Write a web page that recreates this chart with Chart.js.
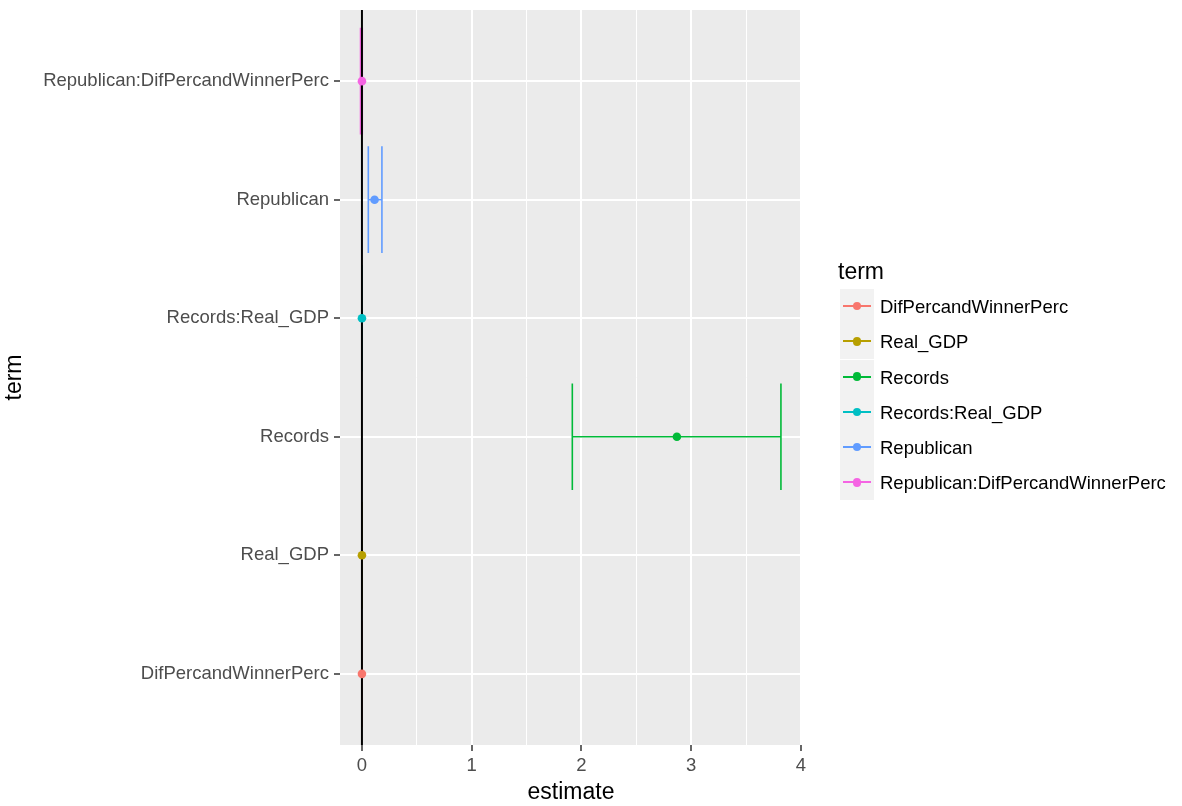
<!DOCTYPE html>
<html>
<head>
<meta charset="utf-8">
<script src="https://cdn.jsdelivr.net/npm/chart.js@4/dist/chart.umd.min.js"></script>
<style>
  html, body { margin:0; padding:0; background:#fff; }
  #wrap { position:relative; width:1182px; height:806px; }
  #c { position:absolute; left:0; top:0; }
  #legend { position:absolute; left:838px; top:255px; font-family:"Liberation Sans", Arial, sans-serif; }
  #legend .title { font-size:23px; color:#000; height:32px; line-height:32px; margin-bottom:2px; }
  #legend .row { position:relative; height:35.3px; }
  #legend .key { position:absolute; left:2px; top:0; width:34px; height:35px; background:#F2F2F2; }
  #legend .line { position:absolute; left:3px; top:16px; width:28px; height:2px; }
  #legend .dot { position:absolute; left:12.8px; top:12.8px; width:8.5px; height:8.5px; border-radius:50%; }
  #legend .lab { position:absolute; left:42px; top:0; height:35px; line-height:35px; font-size:18.5px; color:#000; white-space:nowrap; }
</style>
</head>
<body>
<div id="wrap">
  <canvas id="c" width="1182" height="806"></canvas>
  <div id="legend"></div>
</div>
<script>
// ---- data ----
const terms = ['DifPercandWinnerPerc', 'Real_GDP', 'Records', 'Records:Real_GDP', 'Republican', 'Republican:DifPercandWinnerPerc'];
const estimates = [0.0, 0.0, 2.87, 0.0, 0.115, 0.0];
const lowers = [-0.001, -0.001, 1.917, -0.001, 0.058, -0.013];
const uppers = [0.001, 0.001, 3.818, 0.001, 0.182, 0.003];
const colors = ['#F8766D', '#B79F00', '#00BA38', '#00BFC4', '#619CFF', '#F564E3'];
const xMajorTicks = [0, 1, 2, 3, 4];
const xMinorTicks = [0.5, 1.5, 2.5, 3.5];
const refLineX = 0;

const FONT = '"Liberation Sans", Arial, sans-serif';
const HALF_H = 0.45;
const Y_MIN = 0.4, Y_MAX = 6.6;

const datasets = [];
// points (top)
terms.forEach((t, i) => {
  datasets.push({
    type: 'scatter', label: t,
    data: [{ x: estimates[i], y: i + 1 }],
    backgroundColor: colors[i], borderColor: colors[i],
    pointRadius: 4.3, pointBorderWidth: 0, order: 0
  });
});
// reference line
datasets.push({
  type: 'line', label: '_vline',
  data: [{ x: refLineX, y: Y_MIN }, { x: refLineX, y: Y_MAX }],
  borderColor: '#000', borderWidth: 2, pointRadius: 0, order: 1
});
// error bars
terms.forEach((t, i) => {
  const y = i + 1, lo = lowers[i], hi = uppers[i];
  datasets.push({
    type: 'line', label: '_err' + i,
    data: [
      { x: lo, y: y - HALF_H }, { x: lo, y: y + HALF_H }, { x: lo, y: null },
      { x: lo, y: y }, { x: hi, y: y }, { x: hi, y: null },
      { x: hi, y: y - HALF_H }, { x: hi, y: y + HALF_H }
    ],
    borderColor: colors[i], borderWidth: 1.6, pointRadius: 0, spanGaps: false, order: 2
  });
});

const panelBg = {
  id: 'panelBg',
  beforeDraw(chart) {
    const a = chart.chartArea, ctx = chart.ctx;
    ctx.save();
    ctx.fillStyle = '#EBEBEB';
    ctx.fillRect(a.left, a.top, a.right - a.left, a.bottom - a.top);
    ctx.restore();
  }
};

new Chart(document.getElementById('c'), {
  type: 'scatter',
  data: { datasets },
  plugins: [panelBg],
  options: {
    responsive: false, animation: false, devicePixelRatio: 1,
    layout: { padding: { top: 10, right: 380, left: 0, bottom: 0 } },
    plugins: { legend: { display: false }, tooltip: { enabled: false } },
    scales: {
      x: {
        type: 'linear', min: -0.2, max: 4.01,
        afterBuildTicks: s => { s.ticks = xMajorTicks.concat(xMinorTicks).sort((a, b) => a - b).map(v => ({ value: v })); },
        afterFit: s => { s.height = 61; s.paddingLeft = 0; s.paddingRight = 0; },
        ticks: {
          autoSkip: false, maxRotation: 0, padding: 4,
          color: '#4D4D4D', font: { family: FONT, size: 18.5 },
          callback: v => (xMajorTicks.includes(v) ? String(v) : '')
        },
        grid: {
          color: '#FFFFFF',
          lineWidth: c => (c.tick && xMajorTicks.includes(c.tick.value) ? 2 : 1),
          tickColor: c => (c.tick && xMajorTicks.includes(c.tick.value) ? '#333333' : 'rgba(0,0,0,0)'),
          tickLength: 6, tickWidth: 1.5
        },
        border: { display: false },
        title: { display: true, text: 'estimate', color: '#000', font: { family: FONT, size: 23 }, padding: { top: 0, bottom: 0 } }
      },
      y: {
        type: 'linear', min: Y_MIN, max: Y_MAX,
        afterBuildTicks: s => { s.ticks = terms.map((t, i) => ({ value: i + 1 })); },
        afterFit: s => { s.width = 340; s.paddingTop = 0; s.paddingBottom = 0; },
        ticks: {
          autoSkip: false, padding: 5,
          color: '#4D4D4D', font: { family: FONT, size: 18.5 },
          callback: v => terms[Math.round(v) - 1] || ''
        },
        grid: { color: '#FFFFFF', lineWidth: 2, tickColor: '#333333', tickLength: 6, tickWidth: 1.5 },
        border: { display: false },
        title: { display: true, text: 'term', color: '#000', font: { family: FONT, size: 23 }, padding: { top: 1, bottom: 0 } }
      }
    }
  }
});

// legend
const lg = document.getElementById('legend');
const title = document.createElement('div');
title.className = 'title'; title.textContent = 'term';
lg.appendChild(title);
terms.forEach((t, i) => {
  const row = document.createElement('div'); row.className = 'row';
  const key = document.createElement('div'); key.className = 'key';
  const line = document.createElement('div'); line.className = 'line'; line.style.background = colors[i];
  const dot = document.createElement('div'); dot.className = 'dot'; dot.style.background = colors[i];
  key.appendChild(line); key.appendChild(dot);
  const lab = document.createElement('div'); lab.className = 'lab'; lab.textContent = t;
  row.appendChild(key); row.appendChild(lab);
  lg.appendChild(row);
});
</script>
</body>
</html>
